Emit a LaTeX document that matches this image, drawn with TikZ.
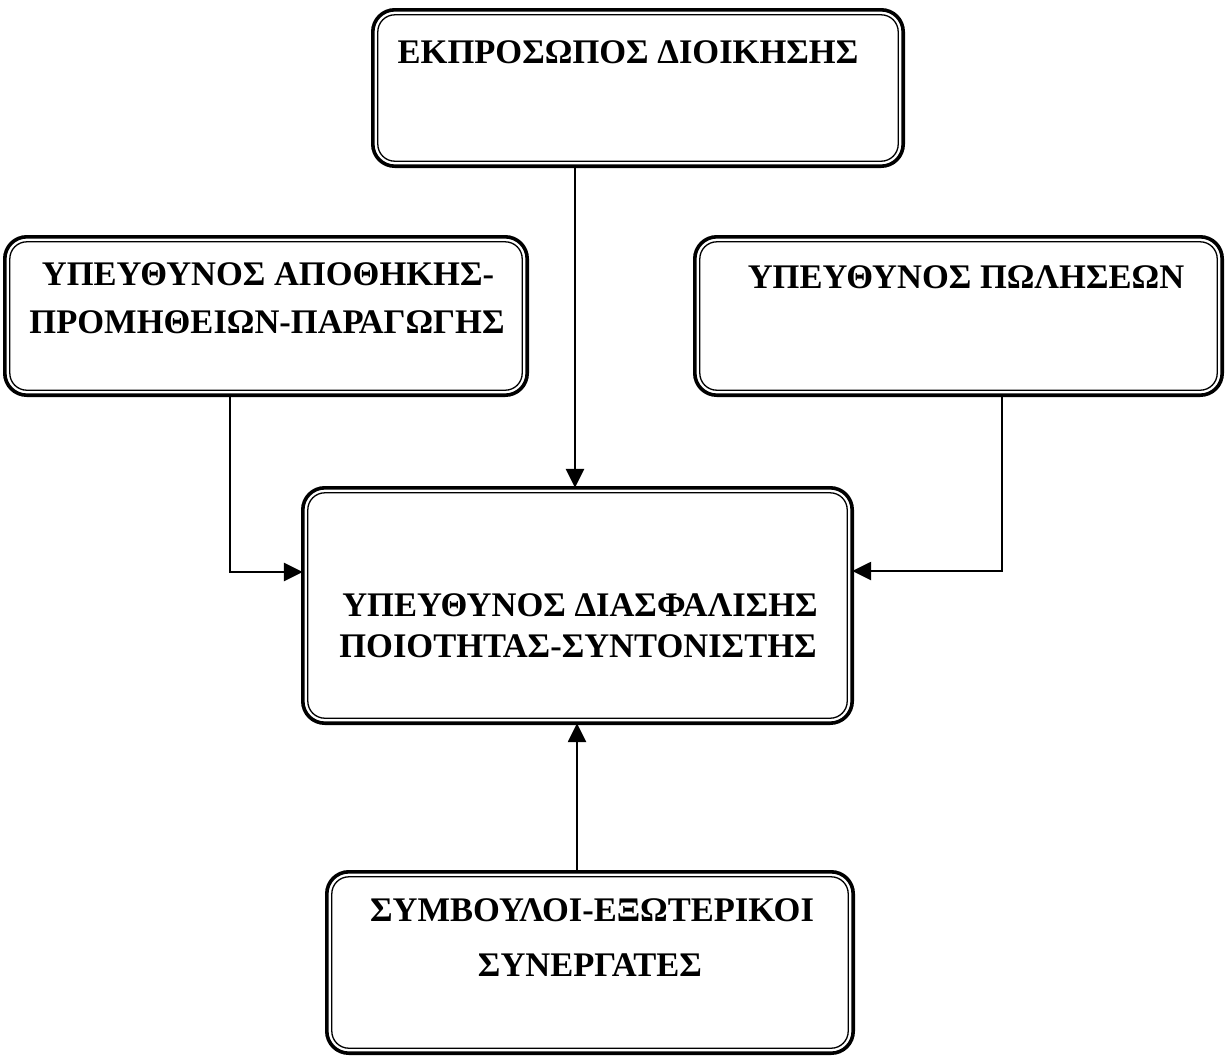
\documentclass[tikz,border=0pt]{standalone}
\usepackage{fontspec}
\setmainfont{Liberation Serif}
\usetikzlibrary{arrows.meta,fit}
\tikzset{
  outerb/.style={line width=3.6pt, rounded corners=22pt},
  innerb/.style={line width=1.3pt, rounded corners=17pt},
  lbl/.style={inner sep=0pt, anchor=base, font=\bfseries\fontsize{34.5}{40}\selectfont},
  arr/.style={line width=2.6pt, -{Triangle[length=19pt,width=18pt]}},
  frame/.style={inner sep=0pt, draw=none}
}
\newcommand\mkbox[5]{%
  \node[frame, fit={(#2,#3) (#4,#5)}] (#1) {};
  \draw[outerb] (#1.north west) rectangle (#1.south east);
  \draw[innerb] ([shift={(5pt,-5pt)}]#1.north west) rectangle ([shift={(-5pt,5pt)}]#1.south east);
}
\begin{document}
\begin{tikzpicture}[x=1pt,y=-1pt]
\useasboundingbox[fill=white] (0,0) rectangle (1226,1061);
\mkbox{top}{373}{10}{903}{166}
\mkbox{left}{5}{237}{527}{395}
\mkbox{right}{695}{237}{1222}{395}
\mkbox{cen}{303}{488}{852}{723}
\mkbox{bot}{327}{872}{853}{1053}

\node[lbl] (topt) at (628,63) {ΕΚΠΡΟΣΩΠΟΣ ΔΙΟΙΚΗΣΗΣ};
\node[lbl] (leftt1) at (268,285) {ΥΠΕΥΘΥΝΟΣ ΑΠΟΘΗΚΗΣ-};
\node[lbl] (leftt2) at (267,333) {ΠΡΟΜΗΘΕΙΩΝ-ΠΑΡΑΓΩΓΗΣ};
\node[lbl] (rightt) at (966,288) {ΥΠΕΥΘΥΝΟΣ ΠΩΛΗΣΕΩΝ};
\node[lbl] (cent1) at (580,616) {ΥΠΕΥΘΥΝΟΣ ΔΙΑΣΦΑΛΙΣΗΣ};
\node[lbl] (cent2) at (578,657) {ΠΟΙΟΤΗΤΑΣ-ΣΥΝΤΟΝΙΣΤΗΣ};
\node[lbl] (bott1) at (592,921) {ΣΥΜΒΟΥΛΟΙ-ΕΞΩΤΕΡΙΚΟΙ};
\node[lbl] (bott2) at (590,976) {ΣΥΝΕΡΓΑΤΕΣ};

\draw[arr] (top.south -| 575,0) -- (cen.north -| 575,0);
\draw[arr] (left.south -| 230,0) |- (cen.west |- 0,572);
\draw[arr] (right.south -| 1002,0) |- (cen.east |- 0,571);
\draw[arr] (bot.north -| 577,0) -- (cen.south -| 577,0);
\end{tikzpicture}
\end{document}
